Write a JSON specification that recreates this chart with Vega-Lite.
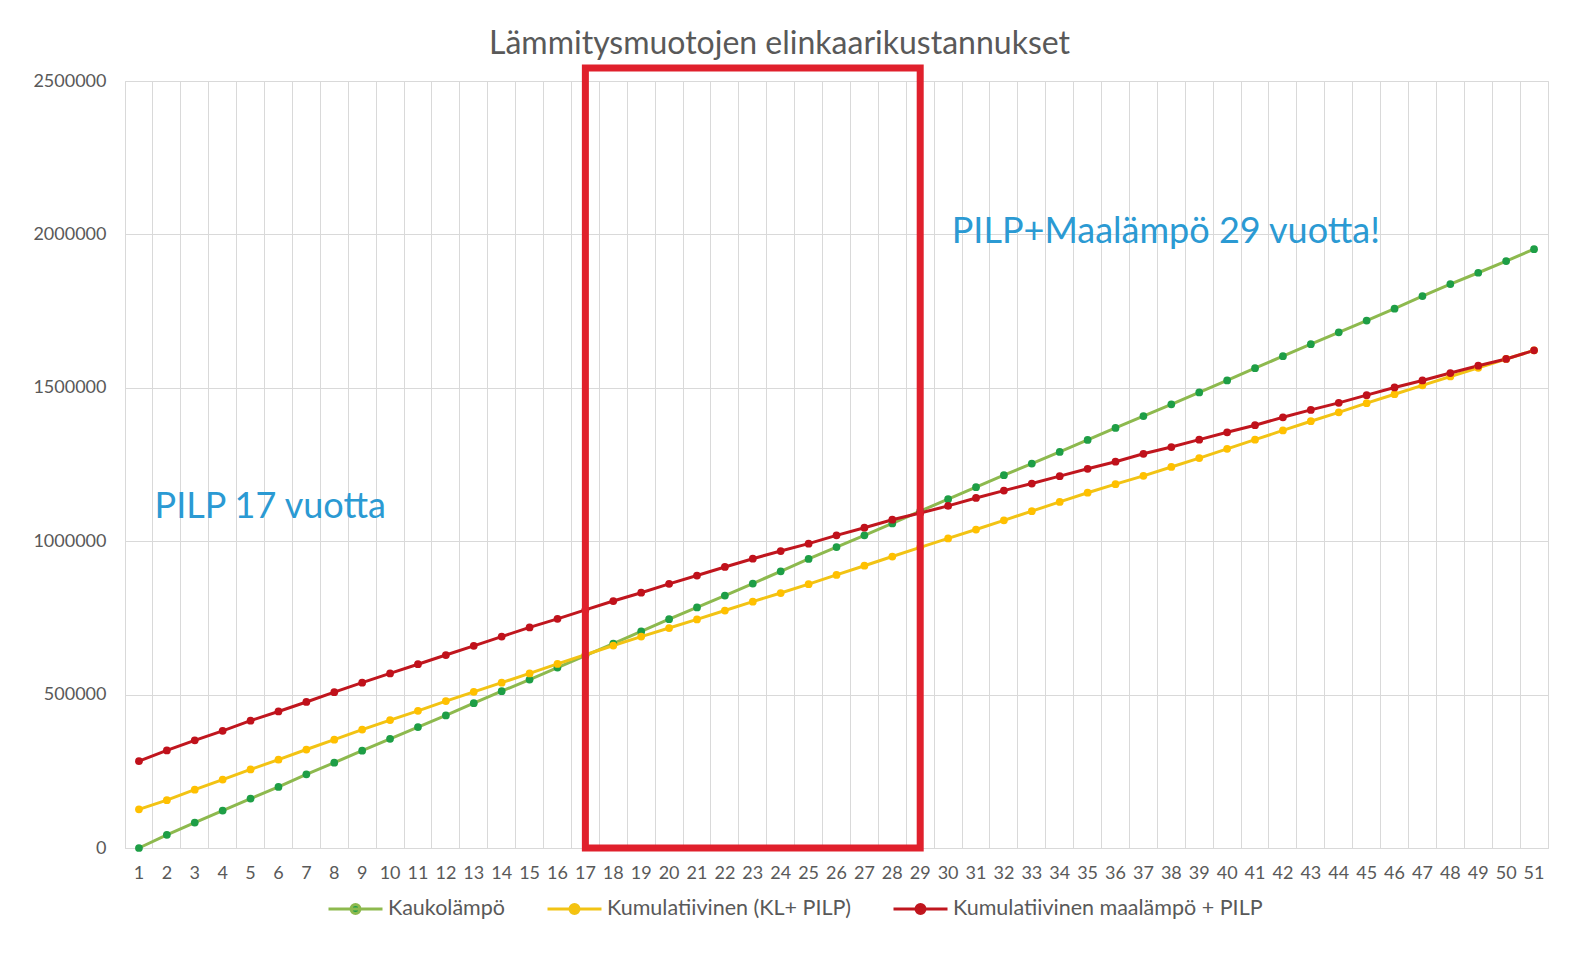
{
"$schema":"https://vega.github.io/schema/vega-lite/v6.json",
"width":1423,"height":767,
"autosize":{"type":"none"},
"padding":{"left":125,"top":81,"right":37,"bottom":107},
"background":"white",
"title":{"text":"Lämmitysmuotojen elinkaarikustannukset","font":"Lato","fontSize":32,"fontWeight":"normal","color":"#595959","anchor":"middle","dx":-57,"offset":-7},
"config":{"view":{"stroke":"#D9D9D9","strokeWidth":1},"axis":{"labelFont":"Lato","labelFontSize":18,"labelColor":"#595959","title":null,"gridColor":"#D9D9D9","gridWidth":1,"ticks":false}},
"datasets":{
"d":[
{"v":1,"s":"Kaukolämpö","y":0},{"v":2,"s":"Kaukolämpö","y":43000},{"v":3,"s":"Kaukolämpö","y":83000},{"v":4,"s":"Kaukolämpö","y":122000},{"v":5,"s":"Kaukolämpö","y":161000},{"v":6,"s":"Kaukolämpö","y":199000},{"v":7,"s":"Kaukolämpö","y":240000},{"v":8,"s":"Kaukolämpö","y":278000},{"v":9,"s":"Kaukolämpö","y":317000},{"v":10,"s":"Kaukolämpö","y":356000},{"v":11,"s":"Kaukolämpö","y":394000},{"v":12,"s":"Kaukolämpö","y":432000},{"v":13,"s":"Kaukolämpö","y":472000},{"v":14,"s":"Kaukolämpö","y":511000},{"v":15,"s":"Kaukolämpö","y":549000},{"v":16,"s":"Kaukolämpö","y":588000},{"v":17,"s":"Kaukolämpö","y":627000},{"v":18,"s":"Kaukolämpö","y":666000},{"v":19,"s":"Kaukolämpö","y":706000},{"v":20,"s":"Kaukolämpö","y":746000},{"v":21,"s":"Kaukolämpö","y":784000},{"v":22,"s":"Kaukolämpö","y":823000},{"v":23,"s":"Kaukolämpö","y":862000},{"v":24,"s":"Kaukolämpö","y":902000},{"v":25,"s":"Kaukolämpö","y":942000},{"v":26,"s":"Kaukolämpö","y":981000},{"v":27,"s":"Kaukolämpö","y":1019000},{"v":28,"s":"Kaukolämpö","y":1058000},{"v":29,"s":"Kaukolämpö","y":1098000},{"v":30,"s":"Kaukolämpö","y":1137000},{"v":31,"s":"Kaukolämpö","y":1176000},{"v":32,"s":"Kaukolämpö","y":1215000},{"v":33,"s":"Kaukolämpö","y":1253000},{"v":34,"s":"Kaukolämpö","y":1291000},{"v":35,"s":"Kaukolämpö","y":1330000},{"v":36,"s":"Kaukolämpö","y":1369000},{"v":37,"s":"Kaukolämpö","y":1408000},{"v":38,"s":"Kaukolämpö","y":1446000},{"v":39,"s":"Kaukolämpö","y":1485000},{"v":40,"s":"Kaukolämpö","y":1524000},{"v":41,"s":"Kaukolämpö","y":1564000},{"v":42,"s":"Kaukolämpö","y":1603000},{"v":43,"s":"Kaukolämpö","y":1642000},{"v":44,"s":"Kaukolämpö","y":1681000},{"v":45,"s":"Kaukolämpö","y":1719000},{"v":46,"s":"Kaukolämpö","y":1758000},{"v":47,"s":"Kaukolämpö","y":1799000},{"v":48,"s":"Kaukolämpö","y":1838000},{"v":49,"s":"Kaukolämpö","y":1875000},{"v":50,"s":"Kaukolämpö","y":1913000},{"v":51,"s":"Kaukolämpö","y":1952000},
{"v":1,"s":"Kumulatiivinen (KL+ PILP)","y":126000},{"v":2,"s":"Kumulatiivinen (KL+ PILP)","y":156000},{"v":3,"s":"Kumulatiivinen (KL+ PILP)","y":190000},{"v":4,"s":"Kumulatiivinen (KL+ PILP)","y":223000},{"v":5,"s":"Kumulatiivinen (KL+ PILP)","y":256000},{"v":6,"s":"Kumulatiivinen (KL+ PILP)","y":288000},{"v":7,"s":"Kumulatiivinen (KL+ PILP)","y":321000},{"v":8,"s":"Kumulatiivinen (KL+ PILP)","y":353000},{"v":9,"s":"Kumulatiivinen (KL+ PILP)","y":386000},{"v":10,"s":"Kumulatiivinen (KL+ PILP)","y":417000},{"v":11,"s":"Kumulatiivinen (KL+ PILP)","y":447000},{"v":12,"s":"Kumulatiivinen (KL+ PILP)","y":479000},{"v":13,"s":"Kumulatiivinen (KL+ PILP)","y":509000},{"v":14,"s":"Kumulatiivinen (KL+ PILP)","y":539000},{"v":15,"s":"Kumulatiivinen (KL+ PILP)","y":569000},{"v":16,"s":"Kumulatiivinen (KL+ PILP)","y":600000},{"v":17,"s":"Kumulatiivinen (KL+ PILP)","y":630000},{"v":18,"s":"Kumulatiivinen (KL+ PILP)","y":660000},{"v":19,"s":"Kumulatiivinen (KL+ PILP)","y":689000},{"v":20,"s":"Kumulatiivinen (KL+ PILP)","y":717000},{"v":21,"s":"Kumulatiivinen (KL+ PILP)","y":745000},{"v":22,"s":"Kumulatiivinen (KL+ PILP)","y":774000},{"v":23,"s":"Kumulatiivinen (KL+ PILP)","y":803000},{"v":24,"s":"Kumulatiivinen (KL+ PILP)","y":831000},{"v":25,"s":"Kumulatiivinen (KL+ PILP)","y":860000},{"v":26,"s":"Kumulatiivinen (KL+ PILP)","y":890000},{"v":27,"s":"Kumulatiivinen (KL+ PILP)","y":920000},{"v":28,"s":"Kumulatiivinen (KL+ PILP)","y":950000},{"v":29,"s":"Kumulatiivinen (KL+ PILP)","y":980000},{"v":30,"s":"Kumulatiivinen (KL+ PILP)","y":1009000},{"v":31,"s":"Kumulatiivinen (KL+ PILP)","y":1038000},{"v":32,"s":"Kumulatiivinen (KL+ PILP)","y":1068000},{"v":33,"s":"Kumulatiivinen (KL+ PILP)","y":1098000},{"v":34,"s":"Kumulatiivinen (KL+ PILP)","y":1128000},{"v":35,"s":"Kumulatiivinen (KL+ PILP)","y":1158000},{"v":36,"s":"Kumulatiivinen (KL+ PILP)","y":1186000},{"v":37,"s":"Kumulatiivinen (KL+ PILP)","y":1213000},{"v":38,"s":"Kumulatiivinen (KL+ PILP)","y":1242000},{"v":39,"s":"Kumulatiivinen (KL+ PILP)","y":1271000},{"v":40,"s":"Kumulatiivinen (KL+ PILP)","y":1301000},{"v":41,"s":"Kumulatiivinen (KL+ PILP)","y":1331000},{"v":42,"s":"Kumulatiivinen (KL+ PILP)","y":1361000},{"v":43,"s":"Kumulatiivinen (KL+ PILP)","y":1391000},{"v":44,"s":"Kumulatiivinen (KL+ PILP)","y":1420000},{"v":45,"s":"Kumulatiivinen (KL+ PILP)","y":1450000},{"v":46,"s":"Kumulatiivinen (KL+ PILP)","y":1479000},{"v":47,"s":"Kumulatiivinen (KL+ PILP)","y":1508000},{"v":48,"s":"Kumulatiivinen (KL+ PILP)","y":1537000},{"v":49,"s":"Kumulatiivinen (KL+ PILP)","y":1565000},{"v":50,"s":"Kumulatiivinen (KL+ PILP)","y":1594000},{"v":51,"s":"Kumulatiivinen (KL+ PILP)","y":1622000},
{"v":1,"s":"Kumulatiivinen maalämpö + PILP","y":283000},{"v":2,"s":"Kumulatiivinen maalämpö + PILP","y":318000},{"v":3,"s":"Kumulatiivinen maalämpö + PILP","y":351000},{"v":4,"s":"Kumulatiivinen maalämpö + PILP","y":382000},{"v":5,"s":"Kumulatiivinen maalämpö + PILP","y":415000},{"v":6,"s":"Kumulatiivinen maalämpö + PILP","y":445000},{"v":7,"s":"Kumulatiivinen maalämpö + PILP","y":476000},{"v":8,"s":"Kumulatiivinen maalämpö + PILP","y":508000},{"v":9,"s":"Kumulatiivinen maalämpö + PILP","y":539000},{"v":10,"s":"Kumulatiivinen maalämpö + PILP","y":569000},{"v":11,"s":"Kumulatiivinen maalämpö + PILP","y":599000},{"v":12,"s":"Kumulatiivinen maalämpö + PILP","y":629000},{"v":13,"s":"Kumulatiivinen maalämpö + PILP","y":659000},{"v":14,"s":"Kumulatiivinen maalämpö + PILP","y":689000},{"v":15,"s":"Kumulatiivinen maalämpö + PILP","y":719000},{"v":16,"s":"Kumulatiivinen maalämpö + PILP","y":747000},{"v":17,"s":"Kumulatiivinen maalämpö + PILP","y":776000},{"v":18,"s":"Kumulatiivinen maalämpö + PILP","y":805000},{"v":19,"s":"Kumulatiivinen maalämpö + PILP","y":832000},{"v":20,"s":"Kumulatiivinen maalämpö + PILP","y":861000},{"v":21,"s":"Kumulatiivinen maalämpö + PILP","y":888000},{"v":22,"s":"Kumulatiivinen maalämpö + PILP","y":916000},{"v":23,"s":"Kumulatiivinen maalämpö + PILP","y":943000},{"v":24,"s":"Kumulatiivinen maalämpö + PILP","y":968000},{"v":25,"s":"Kumulatiivinen maalämpö + PILP","y":992000},{"v":26,"s":"Kumulatiivinen maalämpö + PILP","y":1019000},{"v":27,"s":"Kumulatiivinen maalämpö + PILP","y":1044000},{"v":28,"s":"Kumulatiivinen maalämpö + PILP","y":1070000},{"v":29,"s":"Kumulatiivinen maalämpö + PILP","y":1092000},{"v":30,"s":"Kumulatiivinen maalämpö + PILP","y":1115000},{"v":31,"s":"Kumulatiivinen maalämpö + PILP","y":1141000},{"v":32,"s":"Kumulatiivinen maalämpö + PILP","y":1165000},{"v":33,"s":"Kumulatiivinen maalämpö + PILP","y":1188000},{"v":34,"s":"Kumulatiivinen maalämpö + PILP","y":1212000},{"v":35,"s":"Kumulatiivinen maalämpö + PILP","y":1236000},{"v":36,"s":"Kumulatiivinen maalämpö + PILP","y":1259000},{"v":37,"s":"Kumulatiivinen maalämpö + PILP","y":1285000},{"v":38,"s":"Kumulatiivinen maalämpö + PILP","y":1307000},{"v":39,"s":"Kumulatiivinen maalämpö + PILP","y":1331000},{"v":40,"s":"Kumulatiivinen maalämpö + PILP","y":1355000},{"v":41,"s":"Kumulatiivinen maalämpö + PILP","y":1378000},{"v":42,"s":"Kumulatiivinen maalämpö + PILP","y":1404000},{"v":43,"s":"Kumulatiivinen maalämpö + PILP","y":1428000},{"v":44,"s":"Kumulatiivinen maalämpö + PILP","y":1451000},{"v":45,"s":"Kumulatiivinen maalämpö + PILP","y":1476000},{"v":46,"s":"Kumulatiivinen maalämpö + PILP","y":1501000},{"v":47,"s":"Kumulatiivinen maalämpö + PILP","y":1524000},{"v":48,"s":"Kumulatiivinen maalämpö + PILP","y":1548000},{"v":49,"s":"Kumulatiivinen maalämpö + PILP","y":1572000},{"v":50,"s":"Kumulatiivinen maalämpö + PILP","y":1594000},{"v":51,"s":"Kumulatiivinen maalämpö + PILP","y":1622000}
],
"box":[{"v":17,"y":0,"o":1},{"v":17,"y":2542000,"o":2},{"v":29,"y":2542000,"o":3},{"v":29,"y":0,"o":4},{"v":17,"y":0,"o":5}],
"note1":[{"v":2,"y":1110000,"t":"PILP 17 vuotta"}],
"note2":[{"v":30,"y":2007000,"t":"PILP+Maalämpö 29 vuotta!"}]
},
"layer":[
{"data":{"name":"d"},"mark":{"type":"line","strokeWidth":3},
 "encoding":{
  "x":{"field":"v","type":"ordinal","bandPosition":0.5,"scale":{"type":"band","paddingInner":0,"paddingOuter":0},
   "axis":{"grid":true,"bandPosition":0,"domain":true,"domainColor":"#D9D9D9","labelAngle":0,"labelOffset":0,"labelPadding":16,"labelOverlap":false}},
  "y":{"field":"y","type":"quantitative","scale":{"domain":[0,2500000],"nice":false},
   "axis":{"values":[0,500000,1000000,1500000,2000000,2500000],"format":"d","grid":true,"domain":false,"labelPadding":19}},
  "stroke":{"field":"s","type":"nominal","scale":{"domain":["Kaukolämpö","Kumulatiivinen (KL+ PILP)","Kumulatiivinen maalämpö + PILP"],"range":["#8DB94E","#F2C314","#C0161E"]},
   "legend":{"orient":"none","legendX":202,"legendY":799,"direction":"horizontal","title":null,"padding":0,
    "symbolType":"M-1,0H1M-0.167,0A0.167,0.167,0,1,1,0.167,0A0.167,0.167,0,1,1,-0.167,0Z","symbolSize":2916,"symbolStrokeWidth":3,
    "labelFont":"Lato","labelFontSize":21.5,"labelColor":"#595959","labelOffset":4,"columnPadding":35,"labelLimit":500,
    "encode":{"symbols":{"update":{"fill":{"scale":"fill","field":"value"}}}}}}
 }},
{"data":{"name":"d"},"mark":{"type":"point","filled":true,"size":60,"opacity":1},
 "encoding":{
  "x":{"field":"v","type":"ordinal","bandPosition":0.5},
  "y":{"field":"y","type":"quantitative"},
  "fill":{"field":"s","type":"nominal","scale":{"domain":["Kaukolämpö","Kumulatiivinen (KL+ PILP)","Kumulatiivinen maalämpö + PILP"],"range":["#1E9E46","#FFC000","#C0111B"]},"legend":null}
 }},
{"data":{"name":"box"},"mark":{"type":"line","stroke":"#E0202C","strokeWidth":7,"strokeJoin":"miter","strokeCap":"square"},
 "encoding":{"x":{"field":"v","type":"ordinal","bandPosition":0.5},"y":{"field":"y","type":"quantitative"},"order":{"field":"o","type":"quantitative"}}},
{"data":{"name":"note1"},"mark":{"type":"text","align":"left","baseline":"middle","font":"Lato","fontSize":36,"color":"#2B9AD3"},
 "encoding":{"x":{"field":"v","type":"ordinal","bandPosition":0.06},"y":{"field":"y","type":"quantitative"},"text":{"field":"t"}}},
{"data":{"name":"note2"},"mark":{"type":"text","align":"left","baseline":"middle","font":"Lato","fontSize":36,"color":"#2B9AD3"},
 "encoding":{"x":{"field":"v","type":"ordinal","bandPosition":0.63},"y":{"field":"y","type":"quantitative"},"text":{"field":"t"}}}
]
}
